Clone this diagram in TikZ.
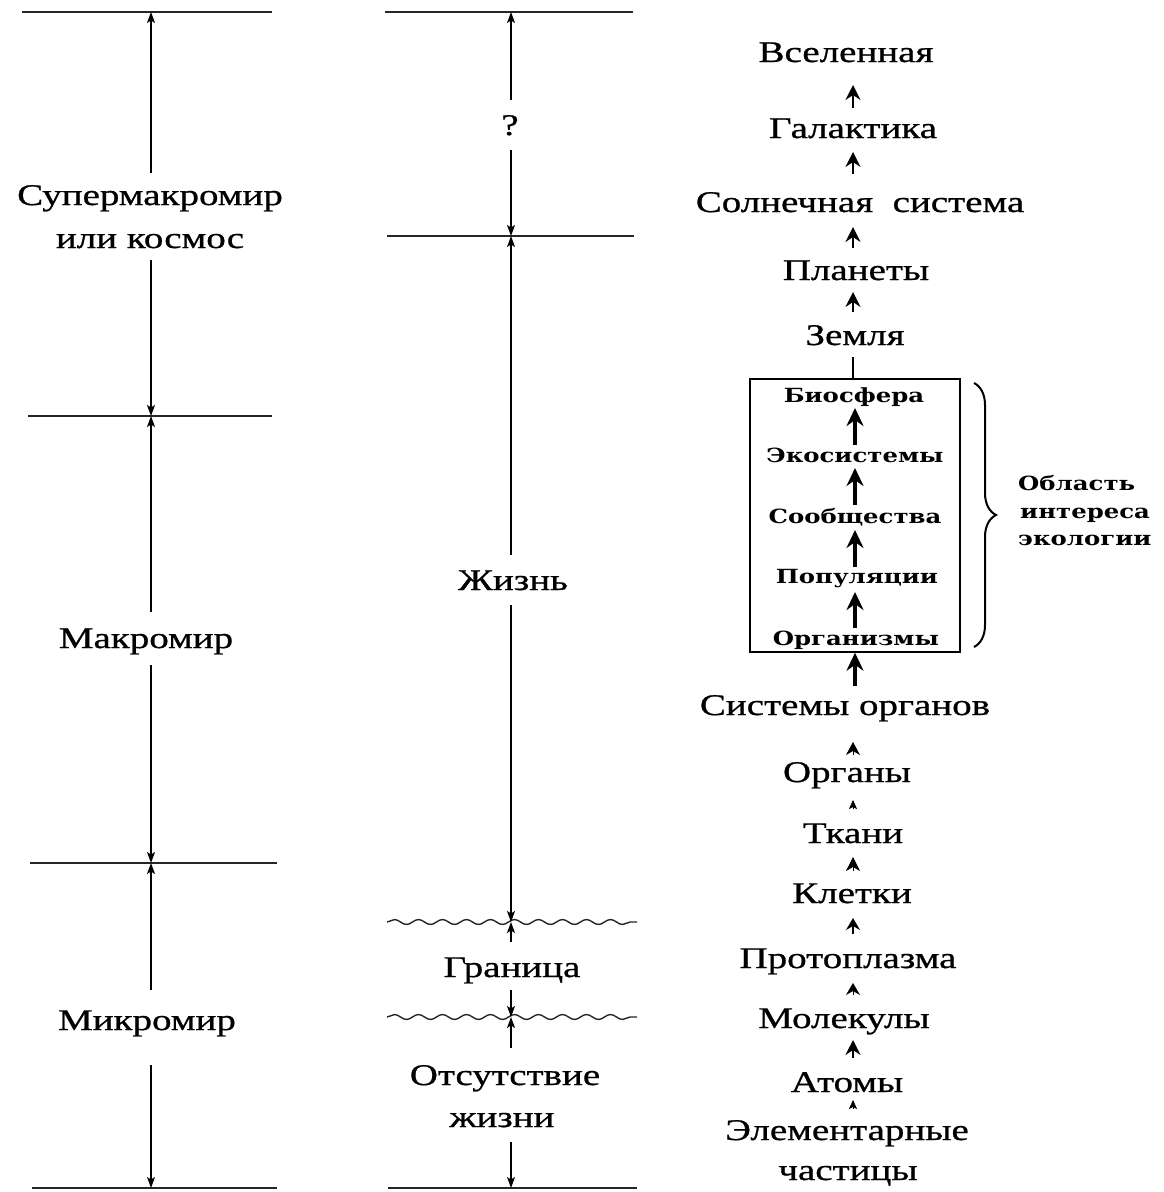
\documentclass[tikz,border=0pt]{standalone}
\usepackage{fontspec}
\newfontfamily\mf[FakeStretch=1.3,FakeBold=0.8]{Liberation Serif}
\newfontfamily\ef[FakeStretch=1.25]{DejaVu Serif}
\usetikzlibrary{arrows.meta,decorations.pathmorphing,decorations.pathreplacing}
\begin{document}
\begin{tikzpicture}[x=1pt,y=-1pt,
  txt/.style={font=\mf\fontsize{30}{34}\selectfont, inner sep=0pt, anchor=base},
  eco/.style={font=\ef\bfseries\fontsize{19.5}{22}\selectfont, inner sep=0pt, anchor=base},
  hline/.style={line width=1.6pt, black!85},
  wave/.style={line width=1.4pt, black!85, decorate, decoration={snake, segment length=24pt, amplitude=2.5pt}},
  dim/.style={line width=1.2pt, -{Stealth[length=11pt,width=8pt,inset=2.5pt]}},
  bigar/.style={line width=2.2pt, -{Stealth[length=15pt,width=15pt,inset=5pt]}},
  boxar/.style={line width=3.5pt, -{Stealth[length=18pt,width=17pt,inset=6pt]}},
  hd/.style={line width=0.8pt, -{Stealth[length=#1,width=14pt,inset=4pt]}},
  tinyhd/.style={line width=0.5pt, -{Stealth[length=#1,width=8pt,inset=2pt]}}
]
\useasboundingbox (0,0) rectangle (1163,1192);

% ---------- column 1 ----------
\coordinate (c1) at (151,0);
\coordinate (a0L) at (22,12);   \coordinate (a0R) at (272,12);
\coordinate (a1L) at (28,416);  \coordinate (a1R) at (272,416);
\coordinate (a2L) at (30,863);  \coordinate (a2R) at (277,863);
\coordinate (a3L) at (32,1188); \coordinate (a3R) at (277,1188);
\draw[hline] (a0L) -- (a0R);
\draw[hline] (a1L) -- (a1R);
\draw[hline] (a2L) -- (a2R);
\draw[hline] (a3L) -- (a3R);
\node[txt] (sup1) at (150,205) {Супермакромир};
\node[txt] (sup2) at (150,248) {или космос};
\node[txt] (mak) at (146,648) {Макромир};
\node[txt] (mik) at (147,1030) {Микромир};
\draw[dim] (c1 |- 0,173) -- (c1 |- a0L);
\draw[dim] (c1 |- 0,260) -- (c1 |- a1L);
\draw[dim] (c1 |- 0,612) -- (c1 |- a1L);
\draw[dim] (c1 |- 0,665) -- (c1 |- a2L);
\draw[dim] (c1 |- 0,990) -- (c1 |- a2L);
\draw[dim] (c1 |- 0,1065) -- (c1 |- a3L);

% ---------- column 2 ----------
\coordinate (c2) at (511,0);
\coordinate (b0L) at (385,12);   \coordinate (b0R) at (633,12);
\coordinate (b1L) at (387,236);  \coordinate (b1R) at (634,236);
\coordinate (w1L) at (387,922);  \coordinate (w1R) at (637,922);
\coordinate (w2L) at (387,1017); \coordinate (w2R) at (637,1017);
\coordinate (b4L) at (388,1188); \coordinate (b4R) at (637,1188);
\draw[hline] (b0L) -- (b0R);
\draw[hline] (b1L) -- (b1R);
\draw[wave] (w1L) -- (w1R);
\draw[wave] (w2L) -- (w2R);
\draw[hline] (b4L) -- (b4R);
\node[txt] (q) at (510,135) {?};
\node[txt] (zh) at (513,590) {Жизнь};
\node[txt] (gr) at (512,977) {Граница};
\node[txt] (ot1) at (505,1085) {Отсутствие};
\node[txt] (ot2) at (502,1127) {жизни};
\draw[dim] (c2 |- 0,100) -- (c2 |- b0L);
\draw[dim] (c2 |- 0,150) -- (c2 |- b1L);
\draw[dim] (c2 |- 0,555) -- (c2 |- b1L);
\draw[dim] (c2 |- 0,605) -- (c2 |- w1L);
\draw[dim] (c2 |- 0,942) -- (c2 |- w1L);
\draw[dim] (c2 |- 0,990) -- (c2 |- w2L);
\draw[dim] (c2 |- 0,1048) -- (c2 |- w2L);
\draw[dim] (c2 |- 0,1142) -- (c2 |- b4L);

% ---------- column 3 ----------
\coordinate (c3) at (853,0);
\coordinate (c4) at (855,0);
\node[txt] (vs) at (846,62) {Вселенная};
\node[txt] (ga) at (853,138) {Галактика};
\node[txt] (so) at (860,212) {Солнечная~~система};
\node[txt] (pl) at (856,280) {Планеты};
\node[txt] (ze) at (855,345) {Земля};
\node[draw, line width=1.5pt, minimum width=210pt, minimum height=273pt, inner sep=0pt] (box) at (855,515.5) {};
\node[eco] (bi) at (854,402) {Биосфера};
\node[eco] (ek) at (855,462) {Экосистемы};
\node[eco] (sb) at (855,523) {Сообщества};
\node[eco] (po) at (857,583) {Популяции};
\node[eco] (og1) at (856,645) {Организмы};
\node[txt] (si) at (845,715) {Системы органов};
\node[txt] (og) at (847,782) {Органы};
\node[txt] (tk) at (853,843) {Ткани};
\node[txt] (kl) at (852,903) {Клетки};
\node[txt] (pr) at (848,968) {Протоплазма};
\node[txt] (mo) at (844,1028) {Молекулы};
\node[txt] (at) at (847,1092) {Атомы};
\node[txt] (el1) at (847,1140) {Элементарные};
\node[txt] (el2) at (848,1180) {частицы};

\draw[bigar] (c3 |- 0,108) -- (c3 |- 0,85);
\draw[bigar, line width=1.8pt] (c3 |- 0,174) -- (c3 |- 0,152);
\draw[bigar, line width=1.8pt] (c3 |- 0,248) -- (c3 |- 0,227);
\draw[bigar, line width=1.8pt] (c3 |- 0,312) -- (c3 |- 0,292);
\draw[line width=2pt] (c3 |- box.north) -- (c3 |- 0,357);
\draw[boxar] (c4 |- 0,445) -- (c4 |- 0,408);
\draw[boxar] (c4 |- 0,505) -- (c4 |- 0,468);
\draw[boxar] (c4 |- 0,567) -- (c4 |- 0,530);
\draw[boxar] (c4 |- 0,628) -- (c4 |- 0,592);
\draw[boxar] (c4 |- 0,686) -- (c4 |- box.south);
\draw[hd=13pt] (c3 |- 0,755) -- (c3 |- 0,742);
\draw[tinyhd=9pt] (c3 |- 0,809) -- (c3 |- 0,800);
\draw[hd=14pt] (c3 |- 0,871) -- (c3 |- 0,857);
\draw[hd=12pt, line width=1.6pt] (c3 |- 0,934) -- (c3 |- 0,918);
\draw[hd=12pt] (c3 |- 0,995) -- (c3 |- 0,983);
\draw[bigar, line width=2.2pt] (c3 |- 0,1058) -- (c3 |- 0,1040);
\draw[tinyhd=9pt] (c3 |- 0,1109) -- (c3 |- 0,1100);

% brace and label
\coordinate (brT) at (974,383);
\coordinate (brB) at (974,647);
\draw[line width=2pt, decorate, decoration={brace, amplitude=22pt}] (brT) -- (brB);
\node[eco, anchor=base west] (ob1) at (1018,490) {Область};
\node[eco, anchor=base west] (ob2) at (1020,518) {интереса};
\node[eco, anchor=base west] (ob3) at (1018,545) {экологии};
\end{tikzpicture}
\end{document}
